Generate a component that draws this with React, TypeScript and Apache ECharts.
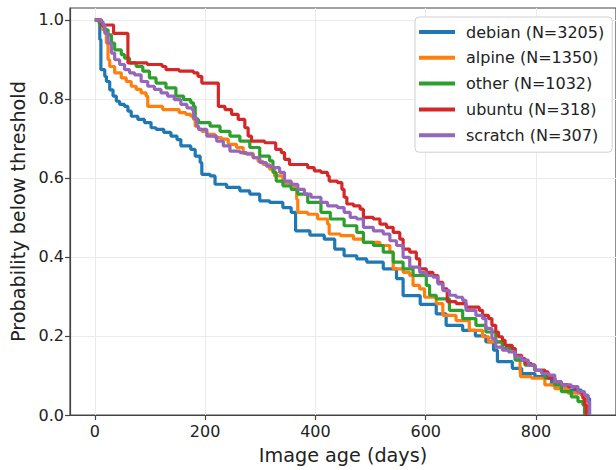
import React, { useEffect, useRef } from "react";
import * as echarts from "echarts";

const seriesNames = ["debian (N=3205)", "alpine (N=1350)", "other (N=1032)", "ubuntu (N=318)", "scratch (N=307)"];
const seriesColors = ["#1f77b4", "#ff7f0e", "#2ca02c", "#d62728", "#9467bd"];

const xTicks = [0, 200, 400, 600, 800];
const yTicks = [0, 0.2, 0.4, 0.6, 0.8, 1.0];

const debian: [number, number][] = [[0,1.0],[9,0.95],[11,0.874],[18,0.857],[21,0.844],[27,0.823],[33,0.807],[39,0.794],[45,0.786],[54,0.781],[60,0.769],[66,0.756],[78,0.748],[90,0.740],[102,0.727],[111,0.723],[125,0.715],[138,0.706],[149,0.697],[156,0.681],[174,0.672],[182,0.655],[191,0.639],[194,0.609],[209,0.605],[218,0.584],[239,0.576],[263,0.567],[281,0.559],[299,0.542],[317,0.538],[341,0.525],[356,0.513],[364,0.466],[390,0.455],[416,0.445],[435,0.420],[452,0.403],[475,0.395],[493,0.387],[523,0.370],[547,0.345],[559,0.302],[590,0.280],[619,0.256],[637,0.227],[667,0.214],[690,0.200],[709,0.185],[723,0.164],[730,0.135],[757,0.118],[774,0.105],[798,0.097],[828,0.076],[858,0.063],[882,0.050],[894,0.042],[897,0]];

const alpine: [number, number][] = [[0,1.0],[9,0.99],[14,0.975],[21,0.941],[24,0.899],[27,0.882],[36,0.866],[48,0.853],[57,0.844],[66,0.832],[75,0.824],[84,0.815],[93,0.807],[96,0.781],[123,0.773],[153,0.765],[165,0.761],[174,0.756],[179,0.748],[182,0.731],[188,0.723],[194,0.718],[203,0.710],[218,0.702],[230,0.698],[242,0.685],[257,0.677],[269,0.662],[287,0.651],[296,0.642],[305,0.634],[317,0.622],[326,0.605],[341,0.588],[356,0.584],[362,0.571],[366,0.546],[368,0.513],[386,0.508],[404,0.496],[422,0.483],[425,0.458],[445,0.454],[469,0.445],[487,0.437],[517,0.429],[535,0.412],[541,0.370],[559,0.361],[571,0.353],[577,0.328],[589,0.319],[598,0.298],[619,0.282],[631,0.252],[655,0.239],[679,0.214],[703,0.198],[714,0.185],[739,0.168],[762,0.147],[771,0.118],[772,0.097],[792,0.093],[816,0.076],[834,0.067],[858,0.055],[882,0.050],[891,0.034],[894,0]];

const other: [number, number][] = [[0,1.0],[8,0.99],[15,0.983],[18,0.975],[24,0.962],[30,0.941],[36,0.924],[48,0.912],[54,0.903],[63,0.891],[75,0.882],[87,0.870],[99,0.853],[111,0.840],[129,0.828],[147,0.807],[161,0.798],[174,0.790],[179,0.781],[182,0.748],[188,0.740],[209,0.731],[227,0.718],[245,0.706],[263,0.693],[281,0.677],[299,0.655],[317,0.643],[323,0.614],[329,0.592],[341,0.580],[356,0.571],[368,0.559],[386,0.538],[410,0.513],[427,0.496],[452,0.479],[475,0.462],[487,0.437],[505,0.429],[523,0.412],[541,0.387],[559,0.370],[577,0.353],[601,0.328],[607,0.303],[619,0.294],[643,0.265],[667,0.244],[691,0.227],[709,0.210],[727,0.185],[739,0.168],[762,0.139],[780,0.126],[798,0.113],[816,0.093],[834,0.076],[846,0.059],[864,0.046],[876,0.034],[885,0.025],[888,0]];

const ubuntu: [number, number][] = [[0,1.0],[12,0.987],[34,0.966],[60,0.891],[95,0.887],[122,0.882],[129,0.874],[153,0.870],[179,0.866],[187,0.857],[194,0.840],[224,0.781],[236,0.773],[248,0.761],[260,0.748],[272,0.727],[278,0.706],[284,0.693],[308,0.689],[328,0.672],[338,0.664],[344,0.647],[353,0.634],[386,0.626],[398,0.618],[410,0.614],[422,0.605],[425,0.592],[440,0.588],[448,0.571],[452,0.551],[457,0.534],[469,0.529],[481,0.521],[487,0.500],[505,0.496],[517,0.483],[529,0.475],[541,0.462],[553,0.445],[559,0.420],[571,0.412],[583,0.395],[589,0.370],[601,0.361],[613,0.353],[622,0.336],[631,0.319],[639,0.287],[655,0.282],[673,0.273],[697,0.265],[703,0.252],[714,0.244],[720,0.227],[727,0.210],[732,0.198],[739,0.189],[744,0.176],[757,0.168],[762,0.151],[774,0.143],[780,0.130],[792,0.126],[798,0.113],[816,0.109],[822,0.093],[834,0.084],[846,0.076],[858,0.072],[870,0.067],[876,0.059],[882,0.055],[885,0.042],[888,0.025],[891,0]];

const scratch: [number, number][] = [[0,1.0],[11,0.995],[15,0.987],[18,0.966],[24,0.941],[30,0.916],[36,0.899],[45,0.887],[54,0.874],[63,0.866],[72,0.861],[84,0.844],[96,0.832],[108,0.824],[120,0.815],[132,0.807],[144,0.798],[156,0.786],[167,0.777],[176,0.773],[179,0.752],[185,0.731],[188,0.723],[203,0.706],[221,0.693],[233,0.681],[245,0.668],[263,0.664],[275,0.660],[287,0.651],[299,0.639],[311,0.630],[323,0.626],[335,0.614],[344,0.592],[356,0.584],[368,0.571],[380,0.559],[392,0.551],[410,0.538],[422,0.529],[440,0.525],[452,0.513],[463,0.500],[475,0.496],[487,0.475],[505,0.466],[523,0.458],[535,0.441],[547,0.429],[559,0.399],[571,0.374],[589,0.361],[601,0.353],[613,0.349],[622,0.332],[631,0.315],[643,0.303],[655,0.298],[667,0.290],[673,0.265],[691,0.252],[703,0.244],[709,0.219],[720,0.193],[727,0.172],[739,0.164],[750,0.160],[762,0.147],[774,0.139],[786,0.126],[798,0.113],[810,0.105],[822,0.101],[834,0.084],[846,0.076],[864,0.072],[876,0.059],[888,0.050],[894,0.034],[897,0]];

const allData = [debian, alpine, other, ubuntu, scratch];

const FONT = "DejaVu Sans";

export default function App() {
  const ref = useRef<HTMLDivElement>(null);
  useEffect(() => {
    document.body.style.margin = "0";
    const chart = echarts.init(ref.current!, null, { renderer: "svg" });
    chart.setOption({
      animation: false,
      backgroundColor: "#ffffff",
      textStyle: { fontFamily: FONT },
      grid: {
        left: 70,
        top: 8,
        width: 552,
        height: 409,
        show: true,
        borderColor: "#444",
        borderWidth: 1.2,
        backgroundColor: "transparent",
      },
      legend: {
        orient: "vertical",
        left: 415,
        top: 17,
        padding: [7, 8, 9, 4],
        itemWidth: 36,
        itemHeight: 4,
        itemGap: 9.8,
        icon: "rect",
        backgroundColor: "rgba(255,255,255,0.85)",
        borderColor: "#d0d0d0",
        borderWidth: 1,
        borderRadius: 4,
        textStyle: { fontFamily: FONT, fontSize: 16, color: "#222", lineHeight: 16, padding: [0, 0, 0, 6] },
        data: seriesNames,
      },
      xAxis: {
        type: "value",
        min: -45,
        max: 945,
        name: "Image age (days)",
        nameLocation: "middle",
        nameGap: 31,
        nameTextStyle: { fontFamily: FONT, fontSize: 19.2, color: "#222" },
        axisLine: { show: true, onZero: false, lineStyle: { color: "#444", width: 1.2 } },
        axisTick: { show: true, length: 5, lineStyle: { color: "#444", width: 1.2 }, customValues: xTicks },
        axisLabel: { customValues: xTicks, fontFamily: FONT, fontSize: 16, color: "#222", margin: 8 },
        splitLine: { show: true, lineStyle: { color: "#ebebeb", width: 1 } },
      },
      yAxis: {
        type: "value",
        min: 0,
        max: 1.03,
        name: "Probability below threshold",
        nameLocation: "middle",
        nameGap: 39,
        nameTextStyle: { fontFamily: FONT, fontSize: 19.2, color: "#222" },
        axisLine: { show: true, onZero: false, lineStyle: { color: "#444", width: 1.2 } },
        axisTick: { show: true, length: 5, lineStyle: { color: "#444", width: 1.2 }, customValues: yTicks },
        axisLabel: {
          customValues: yTicks,
          fontFamily: FONT,
          fontSize: 16,
          color: "#222",
          margin: 6,
          formatter: (v: number) => v.toFixed(1),
        },
        splitLine: { show: true, lineStyle: { color: "#ebebeb", width: 1 } },
      },
      series: seriesNames.map((name, i) => ({
        name,
        type: "line",
        step: "end",
        data: allData[i],
        showSymbol: false,
        symbol: "none",
        color: seriesColors[i],
        lineStyle: { color: seriesColors[i], width: 3.2 },
        itemStyle: { color: seriesColors[i] },
      })),
    });
    return () => chart.dispose();
  }, []);
  return <div ref={ref} style={{ width: 616, height: 470 }} />;
}
